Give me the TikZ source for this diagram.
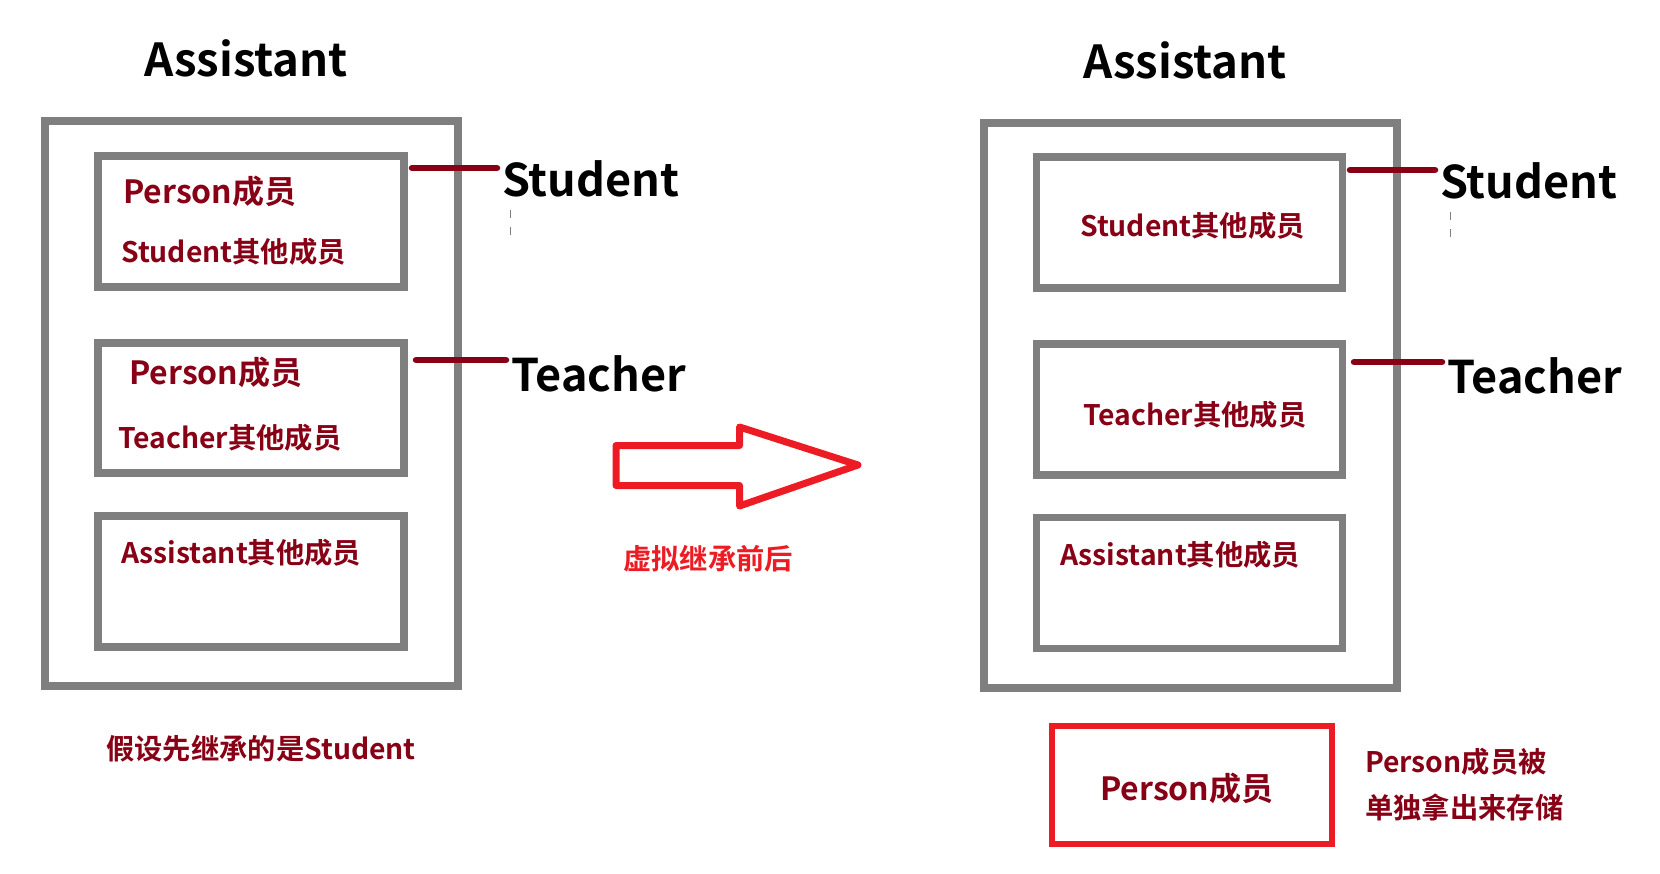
\documentclass[tikz,border=0pt]{standalone}
\usepackage{fontspec}
\setmainfont{Noto Sans CJK SC}[BoldFont={Noto Sans CJK SC Bold}]
\usetikzlibrary{calc}
\definecolor{dred}{HTML}{880015}
\definecolor{bred}{HTML}{ED1C24}
\definecolor{gbox}{HTML}{7F7F7F}
\begin{document}
\begin{tikzpicture}[x=1pt,y=-1pt,
  outerbox/.style={draw=gbox,line width=8pt,minimum width=413pt,inner sep=0pt,outer sep=0pt},
  innerbox/.style={draw=gbox,line width=7.5pt,minimum width=306pt,minimum height=131pt,inner sep=0pt,outer sep=0pt},
  member/.style={text=dred,font=\bfseries\fontsize{28.3}{28.3}\selectfont,inner sep=0pt,anchor=west},
  pmember/.style={text=dred,font=\bfseries\fontsize{32}{32}\selectfont,inner sep=0pt,anchor=west},
  title/.style={text=black,font=\bfseries\fontsize{45.5}{45.5}\selectfont,inner sep=0pt},
  label/.style={text=black,font=\bfseries\fontsize{45}{45}\selectfont,inner sep=0pt,anchor=west},
  link/.style={draw=dred,line width=6.5pt,line cap=round},
  tick/.style={draw=gray,line width=1pt,dash pattern=on 8pt off 9pt}]
\useasboundingbox (0,0) rectangle (1660,874);
\fill[white] (0,0) rectangle (1660,874);

% ---------- left ----------
\node[title] (tL) at (246,58) {Assistant};
\node[outerbox,minimum height=565pt] (L) at (251.5,403.5) {};
\node[innerbox] (L1) at (250.75,221.5) {};
\node[innerbox,minimum height=130pt] (L2) at (250.75,408) {};
\node[innerbox] (L3) at (250.75,581.5) {};
\node[pmember] (L1a) at (123,191) {Person成员};
\node[member] (L1b) at (121,252) {Student其他成员};
\node[pmember] (L2a) at (129,372) {Person成员};
\node[member] (L2b) at (118,438) {Teacher其他成员};
\node[member] (L3a) at (121,553) {Assistant其他成员};
\node[member] (note1) at (106,749) {假设先继承的是Student};

\node[label] (lS) at (502,179) {Student};
\node[label] (lT) at (511,374) {Teacher};
\coordinate (cL1) at (412,168);
\coordinate (cL2) at (416,360);
\draw[link] (cL1) -- ($(lS.west |- cL1)+(-5,0)$);
\draw[link] (cL2) -- ($(lT.west |- cL2)+(-5,0)$);
\draw[tick] (510,210) -- (510,237);

% ---------- arrow ----------
\draw[bred,line width=7pt,line join=round]
  (616,445.5) -- (739.5,445.5) -- (739.5,427) -- (858,465) -- (739.5,506)
  -- (739.5,485.5) -- (616,485.5) -- cycle;
\node[member,text=bred] (mid) at (623,559) {虚拟继承前后};

% ---------- right ----------
\node[title] (tR) at (1185,60) {Assistant};
\node[outerbox,minimum height=564.5pt] (R) at (1190.5,405.25) {};
\node[innerbox] (R1) at (1189.5,222.5) {};
\node[innerbox] (R2) at (1189.5,409.5) {};
\node[innerbox] (R3) at (1189.5,583) {};
\node[member] (R1a) at (1080,226) {Student其他成员};
\node[member] (R2a) at (1083,415) {Teacher其他成员};
\node[member] (R3a) at (1060,555) {Assistant其他成员};

\node[label] (rS) at (1440,181) {Student};
\node[label] (rT) at (1447,376) {Teacher};
\coordinate (cR1) at (1350,170);
\coordinate (cR2) at (1354,362);
\draw[link] (cR1) -- ($(rS.west |- cR1)+(-5,0)$);
\draw[link] (cR2) -- ($(rT.west |- cR2)+(-5,0)$);
\draw[tick] (1450,212) -- (1450,238);

\node[draw=bred,line width=6.5pt,minimum width=280pt,minimum height=118pt,inner sep=0pt,outer sep=0pt] (P) at (1192,785) {};
\node[pmember] (Pa) at (1100,788) {Person成员};
\node[member] (n2a) at (1365,762) {Person成员被};
\node[member] (n2b) at (1365,808) {单独拿出来存储};
\end{tikzpicture}
\end{document}
